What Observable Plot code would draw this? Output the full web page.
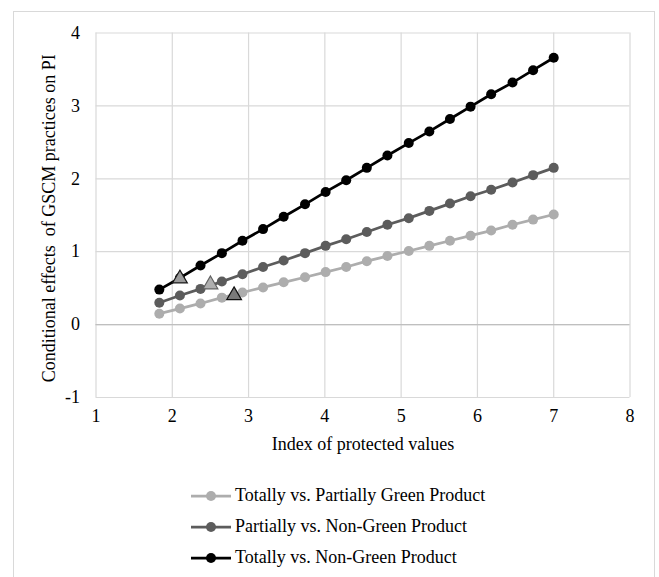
<!DOCTYPE html>
<html>
<head>
<meta charset="utf-8">
<script src="https://cdn.jsdelivr.net/npm/d3@7"></script>
<script src="https://cdn.jsdelivr.net/npm/@observablehq/plot@0.6"></script>
<style>
  html, body { margin: 0; padding: 0; background: #fff; }
  #wrap { position: relative; width: 659px; height: 577px; overflow: hidden; font-family: "Liberation Serif", "Times New Roman", serif; }
  #border { position: absolute; left: 13px; top: 11px; width: 642px; height: 620px; border: 1.5px solid #d9d9d9; box-sizing: border-box; }
  #chart { position: absolute; left: 0; top: 0; }
  #chart svg text { font-family: "Liberation Serif", "Times New Roman", serif !important; font-variant: normal !important; }
  #legend { position: absolute; left: 190px; top: 480px; }
  .row { display: flex; align-items: center; height: 31px; font-size: 18px; color: #000; }
  .row svg { margin-right: 3px; }
</style>
</head>
<body>
<div id="wrap">
  <div id="border"></div>
  <div id="chart"></div>
  <div id="legend"></div>
</div>
<script>
// Index of protected values (x positions of the points)
const xValues = [1.83, 2.10, 2.37, 2.65, 2.92, 3.19, 3.46, 3.74, 4.01, 4.28,
                 4.55, 4.82, 5.10, 5.37, 5.64, 5.91, 6.18, 6.46, 6.73, 7.00];

const seriesNames = [
  "Totally vs. Partially Green Product",
  "Partially vs. Non-Green Product",
  "Totally vs. Non-Green Product"
];

const totallyVsPartially = [0.15, 0.22, 0.29, 0.37, 0.44, 0.51, 0.58, 0.65, 0.72, 0.79,
                            0.87, 0.94, 1.01, 1.08, 1.15, 1.22, 1.29, 1.37, 1.44, 1.51];
const partiallyVsNon = [0.30, 0.40, 0.49, 0.59, 0.69, 0.79, 0.88, 0.98, 1.08, 1.17,
                        1.27, 1.37, 1.46, 1.56, 1.66, 1.76, 1.85, 1.95, 2.05, 2.15];
const totallyVsNon = [0.48, 0.64, 0.81, 0.98, 1.15, 1.31, 1.48, 1.65, 1.82, 1.98,
                      2.15, 2.32, 2.49, 2.65, 2.82, 2.99, 3.16, 3.32, 3.49, 3.66];

// Triangle markers (Johnson-Neyman points)
const triX = [2.10, 2.50, 2.81];
const triY = [0.63, 0.55, 0.40];

const xTicks = [1, 2, 3, 4, 5, 6, 7, 8];
const yTicks = [-1, 0, 1, 2, 3, 4];

const colors = ["#adadad", "#5c5c5c", "#000000"];
const triFill = ["#9a9a9a", "#b0b0b0", "#7a7a7a"];
const triStroke = ["#1a1a1a", "#606060", "#111111"];

const seriesValues = [totallyVsPartially, partiallyVsNon, totallyVsNon];
const rows = [];
seriesValues.forEach((vals, s) => {
  vals.forEach((v, i) => rows.push({series: seriesNames[s], s, x: xValues[i], y: v}));
});
const tris = triX.map((x, i) => ({x, y: triY[i], i}));

const lineMarks = [];
[0, 1, 2].forEach(s => {
  const d = rows.filter(r => r.s === s);
  lineMarks.push(Plot.line(d, {x: "x", y: "y", stroke: colors[s], strokeWidth: 2.75}));
  lineMarks.push(Plot.dot(d, {x: "x", y: "y", r: 5, fill: colors[s], stroke: "none"}));
});

const fmt = d => String(d);
const serif = "Liberation Serif";

const chart = Plot.plot({
  width: 659,
  height: 460,
  marginLeft: 95.5,
  marginRight: 29.5,
  marginTop: 32.5,
  marginBottom: 63,
  style: {fontFamily: serif, fontSize: "18px", color: "#000", background: "transparent"},
  x: {domain: [1, 8]},
  y: {domain: [-1, 4]},
  marks: [
    Plot.gridX(xTicks, {stroke: "#d9d9d9", strokeOpacity: 1, strokeWidth: 1.2}),
    Plot.gridY(yTicks, {stroke: "#d9d9d9", strokeOpacity: 1, strokeWidth: 1.2}),
    Plot.ruleY([0], {stroke: "#bfbfbf", strokeWidth: 1.4}),
    Plot.axisX(xTicks, {tickSize: 0, tickPadding: 12, label: null, fill: "#000", tickFormat: fmt, fontSize: 18, fontFamily: serif}),
    Plot.axisY(yTicks, {tickSize: 0, tickPadding: 16, label: null, fill: "#000", tickFormat: fmt, fontSize: 18, fontFamily: serif}),
    ...lineMarks,
    Plot.dot(tris, {x: "x", y: "y", symbol: "triangle", r: 5.5,
      fill: d => triFill[d.i], stroke: d => triStroke[d.i], strokeWidth: 1.2}),
    Plot.text(["Index of protected values"], {frameAnchor: "bottom", dy: 52, fontSize: 18, fill: "#000", fontFamily: serif}),
    Plot.text(["Conditional effects  of GSCM practices on PI"], {frameAnchor: "left", textAnchor: "middle", dx: -47, dy: 3, rotate: -90, fontSize: 18, fill: "#000", fontFamily: serif})
  ]
});
document.getElementById("chart").appendChild(chart);

// Legend
const legend = d3.select("#legend");
seriesNames.forEach((name, s) => {
  const row = legend.append("div").attr("class", "row");
  const svg = row.append("svg").attr("width", 42).attr("height", 14);
  svg.append("line").attr("x1", 1).attr("x2", 41).attr("y1", 7).attr("y2", 7)
    .attr("stroke", colors[s]).attr("stroke-width", 2.75);
  svg.append("circle").attr("cx", 21).attr("cy", 7).attr("r", 5).attr("fill", colors[s]);
  row.append("span").text(name);
});
</script>
</body>
</html>
